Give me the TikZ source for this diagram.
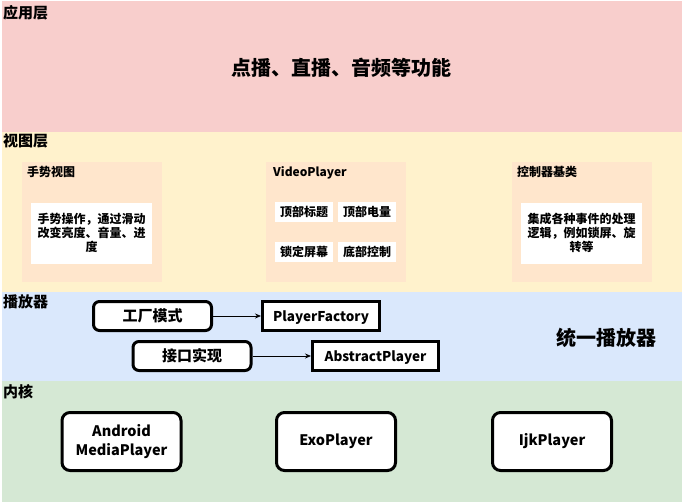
\documentclass[tikz,border=0pt]{standalone}
\usepackage{fontspec}
\setmainfont{Noto Sans CJK SC}
\usetikzlibrary{arrows.meta}
\definecolor{applayer}{HTML}{F8CECC}
\definecolor{viewlayer}{HTML}{FFF2CC}
\definecolor{playerlayer}{HTML}{DAE8FC}
\definecolor{corelayer}{HTML}{D5E8D4}
\definecolor{groupfill}{HTML}{FFE6CC}

\begin{document}
\begin{tikzpicture}[x=1pt,y=-1pt,>={Stealth[length=6pt,width=5pt]},
		layername/.style={anchor=west,inner sep=0pt,font=\bfseries\fontsize{15}{18}\selectfont},
		group/.style={fill=groupfill,minimum width=140pt,minimum height=120pt,inner sep=0pt},
		grouptitle/.style={anchor=west,inner sep=0pt,font=\bfseries\fontsize{12}{14}\selectfont},
		note/.style={fill=white,minimum width=121pt,minimum height=61pt,align=center,inner sep=0pt,font=\bfseries\fontsize{12}{14}\selectfont},
		part/.style={fill=white,minimum width=58pt,minimum height=20pt,inner sep=0pt,font=\bfseries\fontsize{12}{14}\selectfont},
		method/.style={draw,line width=3pt,rounded corners=6pt,fill=white,minimum width=118pt,minimum height=29pt,inner sep=0pt,font=\bfseries\fontsize{15}{18}\selectfont},
		klass/.style={draw,line width=3pt,fill=white,minimum height=29pt,inner sep=0pt,text height=12pt,text depth=0.5pt,font=\bfseries\fontsize{13.5}{16}\selectfont},
		kernel/.style={draw,line width=3pt,rounded corners=8pt,fill=white,minimum width=119pt,minimum height=58pt,align=center,inner sep=0pt,font=\bfseries\fontsize{14.5}{18.4}\selectfont}]
			\useasboundingbox (0,0) rectangle (683,503);
			% layers
			\fill[applayer] (1.5,1.5) rectangle (681.5,131.5);
			\fill[viewlayer] (1.5,131.5) rectangle (681.5,292);
			\fill[playerlayer] (1.5,292) rectangle (681.5,381);
			\fill[corelayer] (1.5,381) rectangle (681.5,502);
			\draw (3,13) node [layername] (appname) {应用层};
			\draw (3,141) node [layername] (viewname) {视图层};
			\draw (3,302) node [layername] (playername) {播放器};
			\draw (3,392) node [layername] (corename) {内核};
			\draw (341,68) node [font=\bfseries\fontsize{20}{24}\selectfont] (features) {点播、直播、音频等功能};
			% view layer
			\draw (91.5,222) node [group] (gesture) {};
			\draw (27,172) node [grouptitle] (gesturetitle) {手势视图};
			\draw (91.5,233) node [note] (gesturenote) {手势操作，通过滑动\\改变亮度、音量、进\\度};
			\draw (335.7,222) node [group] (video) {};
			\draw (273,173) node [grouptitle] (videotitle) {VideoPlayer};
			\draw (304,211.5) node [part] (toptitle) {顶部标题};
			\draw (367,211.5) node [part] (topbattery) {顶部电量};
			\draw (304,251.5) node [part] (lockscreen) {锁定屏幕};
			\draw (367,251.5) node [part] (bottomctrl) {底部控制};
			\draw (581.7,222) node [group] (controller) {};
			\draw (517,172) node [grouptitle] (controllertitle) {控制器基类};
			\draw (581.7,233) node [note] (controllernote) {集成各种事件的处理\\逻辑，例如锁屏、旋\\转等};
			% player layer
			\draw (152.5,316) node [method] (factory) {工厂模式};
			\draw (321,316) node [klass,minimum width=117pt] (playerfactory) {PlayerFactory};
			\draw (192,356) node [method] (iface) {接口实现};
			\draw (375.5,356) node [klass,minimum width=126pt] (abstractplayer) {AbstractPlayer};
			\draw (606,337.5) node [font=\bfseries\fontsize{20}{24}\selectfont] (unified) {统一播放器};
			\path[->,line width=0.8pt]
				(factory) edge (playerfactory)
				(iface) edge (abstractplayer);
			% kernel layer
			\draw (121.5,441.5) node [kernel] (android) {Android\\MediaPlayer};
			\draw (336,441.5) node [kernel] (exo) {ExoPlayer};
			\draw (552,441.5) node [kernel] (ijk) {IjkPlayer};
		\end{tikzpicture}
\end{document}
